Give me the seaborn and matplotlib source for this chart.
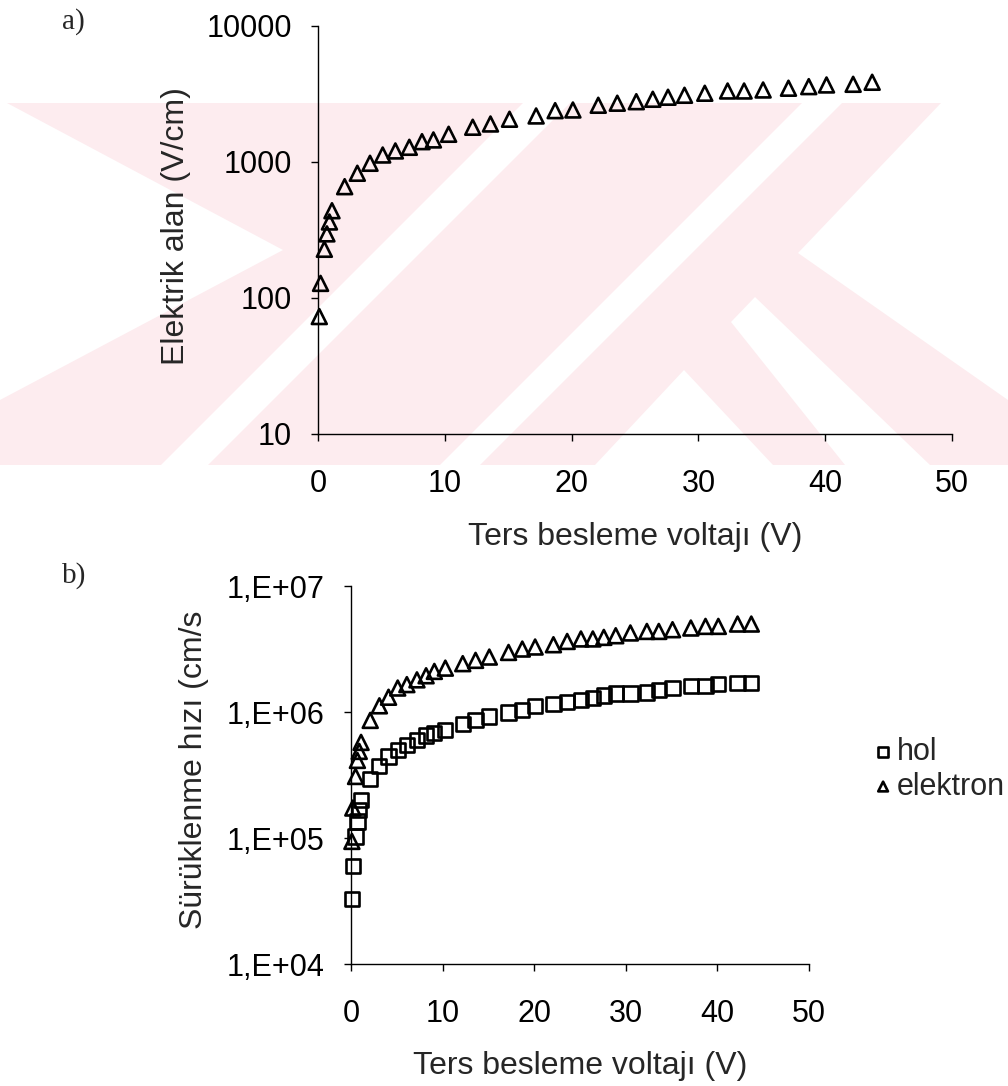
import numpy as np
import pandas as pd
import matplotlib
matplotlib.use("Agg")
import matplotlib.pyplot as plt
from matplotlib.patches import Polygon
import seaborn as sns

# ters besleme voltaji (V) - ayni olcum noktalari iki grafikte de
voltaj = [0.1, 0.2, 0.5, 0.7, 0.9, 1.1, 2.1, 3.1, 4.1, 5.1, 6.1, 7.2, 8.2, 9.1,
          10.3, 12.2, 13.6, 15.1, 17.2, 18.7, 20.1, 22.1, 23.6, 25.1, 26.4, 27.6,
          28.9, 30.5, 32.3, 33.6, 35.1, 37.1, 38.7, 40.1, 42.2, 43.7]

# a) elektrik alan (V/cm)
elektrik_alan = [73, 128, 228, 296, 362, 438, 658, 826, 978, 1125, 1205, 1282,
                 1410, 1452, 1598, 1800, 1902, 2061, 2179, 2384, 2411, 2612,
                 2704, 2774, 2891, 2992, 3093, 3200, 3325, 3325, 3383, 3485,
                 3580, 3683, 3724, 3855]

# b) suruklenme hizi (cm/s)
hol_hizi = [3.3e4, 6.0e4, 1.03e5, 1.35e5, 1.68e5, 1.99e5, 2.95e5, 3.75e5,
            4.44e5, 5.02e5, 5.5e5, 6.03e5, 6.52e5, 6.81e5, 7.24e5, 8.07e5,
            8.69e5, 9.23e5, 9.93e5, 1.04e6, 1.11e6, 1.16e6, 1.2e6, 1.24e6,
            1.29e6, 1.35e6, 1.4e6, 1.4e6, 1.43e6, 1.5e6, 1.55e6, 1.6e6,
            1.6e6, 1.67e6, 1.7e6, 1.7e6]
elektron_hizi = [9.4e4, 1.73e5, 3.08e5, 4.13e5, 4.87e5, 5.74e5, 8.58e5, 1.12e6,
                 1.31e6, 1.55e6, 1.65e6, 1.8e6, 1.94e6, 2.1e6, 2.23e6, 2.42e6,
                 2.57e6, 2.73e6, 2.97e6, 3.16e6, 3.28e6, 3.42e6, 3.63e6, 3.8e6,
                 3.8e6, 3.91e6, 4.03e6, 4.24e6, 4.36e6, 4.36e6, 4.5e6, 4.64e6,
                 4.78e6, 4.78e6, 4.99e6, 4.99e6]

x_ticks = [0, 10, 20, 30, 40, 50]
alan_ticks = [10, 100, 1000, 10000]
alan_labels = ["10", "100", "1000", "10000"]
hiz_ticks = [1e4, 1e5, 1e6, 1e7]
hiz_labels = ["1,E+04", "1,E+05", "1,E+06", "1,E+07"]

sns.set_style("ticks")
plt.rcParams["font.family"] = ["Liberation Sans", "DejaVu Sans"]

W, H = 1008, 1086
fig = plt.figure(figsize=(W / 100, H / 100), dpi=100)

# taranmis sayfadaki soluk pembe filigran (kaba yaklasim, piksel koordinati)
def px(pts):
    return [(x / W, 1 - y / H) for x, y in pts]

pembe = "#fdecef"
fig.add_artist(Polygon(px([(0, 103), (1008, 103), (1008, 465), (0, 465)]),
                       transform=fig.transFigure, fc=pembe, ec="none", zorder=-2))
beyaz_parcalar = [
    [(0, 103), (7, 103), (283, 250), (0, 400)],
    [(523, 103), (570, 103), (208, 465), (161, 465)],
    [(802, 103), (842, 103), (480, 465), (440, 465)],
    [(941, 103), (1008, 103), (1008, 400), (798, 253)],
    [(684, 370), (773, 465), (595, 465)],
    [(755, 297), (930, 465), (845, 465), (731, 322)],
]
for p in beyaz_parcalar:
    fig.add_artist(Polygon(px(p), transform=fig.transFigure, fc="white",
                           ec="none", zorder=-1))

ax1 = fig.add_axes([0.3155, 0.6004, 0.629, 0.3757])
ax2 = fig.add_axes([0.3482, 0.1123, 0.4544, 0.3481])

tri = dict(marker="^", s=115, facecolors="none", edgecolors="black",
           linewidths=1.9, clip_on=False, zorder=3)
sq = dict(marker="s", s=105, facecolors="none", edgecolors="black",
          linewidths=1.9, clip_on=False, zorder=3)

# a) grafigi
sns.scatterplot(x=voltaj, y=elektrik_alan, ax=ax1, **tri)

# b) grafigi
sns.scatterplot(x=voltaj, y=hol_hizi, label="hol", ax=ax2, **sq)
sns.scatterplot(x=voltaj, y=elektron_hizi, label="elektron", ax=ax2, **tri)

for ax, yt, yl, lim in [(ax1, alan_ticks, alan_labels, (10, 10000)),
                        (ax2, hiz_ticks, hiz_labels, (1e4, 1e7))]:
    ax.set_yscale("log")
    ax.set_ylim(*lim)
    ax.set_xlim(0, 50)
    ax.set_xticks(x_ticks)
    ax.set_yticks(yt)
    ax.set_yticklabels(yl)
    ax.yaxis.set_minor_locator(matplotlib.ticker.NullLocator())
    ax.tick_params(axis="both", direction="out", length=5, width=1,
                   color="black", labelsize=22, labelcolor="black")
    ax.tick_params(axis="x", pad=20)
    ax.tick_params(axis="y", pad=14)
    for side in ["top", "right"]:
        ax.spines[side].set_visible(False)
    for side in ["left", "bottom"]:
        ax.spines[side].set_linewidth(1)
        ax.spines[side].set_color("black")
    ax.set_xlabel("Ters besleme voltajı (V)", fontsize=23)
    ax.set_facecolor("none")

ax1.set_ylabel("Elektrik alan (V/cm)", fontsize=23)
ax2.set_ylabel("Sürüklenme hızı (cm/s", fontsize=23)
ax1.xaxis.set_label_coords(0.5, -0.216)
ax2.xaxis.set_label_coords(0.5, -0.23)
ax1.yaxis.set_label_coords(-0.2, 0.51)
ax2.yaxis.set_label_coords(-0.31, 0.513)

handles, labels = ax2.get_legend_handles_labels()
ax2.get_legend().remove()
fig.legend(handles, labels, loc="upper left", bbox_to_anchor=(0.867, 0.3214),
           frameon=False, fontsize=22, markerscale=0.65, handlelength=0.6,
           handletextpad=0.15, labelspacing=0.15, borderpad=0, borderaxespad=0)

fig.text(62 / W, 1 - 8 / H, "a)", fontsize=21, va="top",
         family=["Liberation Serif"])
fig.text(62 / W, 1 - 562 / H, "b)", fontsize=21, va="top",
         family=["Liberation Serif"])

fig.savefig("out.png", dpi=100, facecolor="white")
